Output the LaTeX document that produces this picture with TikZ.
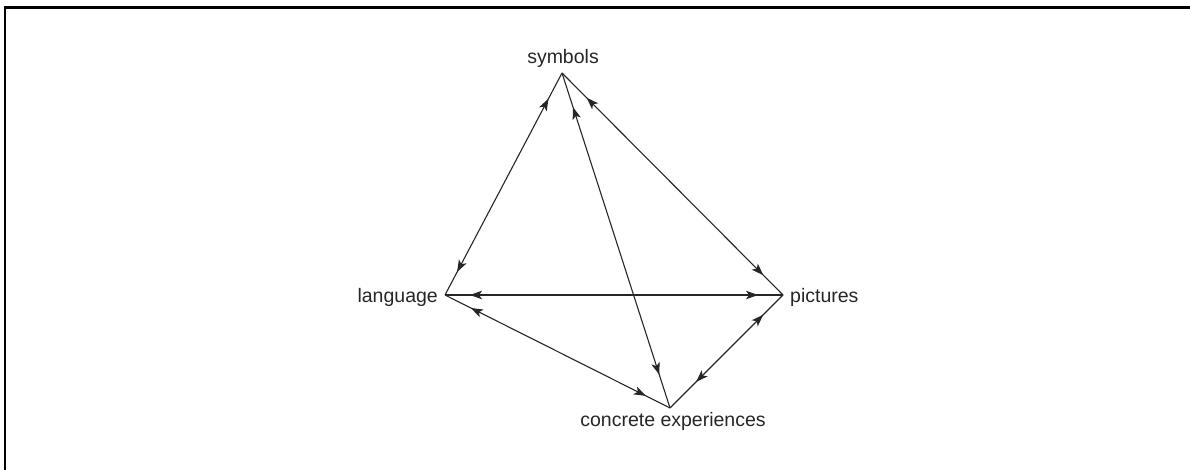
\documentclass[tikz,border=0pt]{standalone}
\usepackage{fontspec}
\setmainfont{Liberation Sans}
\usetikzlibrary{arrows.meta,decorations.markings}
\begin{document}
\begin{tikzpicture}[x=1pt,y=-1pt,
  label/.style={font=\fontsize{19.5}{22}\selectfont, inner sep=0pt, text=black!85},
  tipstyle/.tip={Stealth[length=12pt,width=8.5pt,inset=3pt]},
  edge/.style 2 args={draw=black!85, line width=1.1pt,
    postaction={decorate, decoration={markings,
      mark=at position #1 with {\arrowreversed{tipstyle}},
      mark=at position -#2 with {\arrow{tipstyle}}}}}]
  \useasboundingbox (0,0) rectangle (1190,470);
  % frame edges
  \draw[line width=2.5pt] (5,470) -- (5,7.5) -- (1190,7.5);
  % corners of the tetrahedron
  \coordinate (S) at (562,73);
  \coordinate (L) at (445,295);
  \coordinate (P) at (783,295);
  \coordinate (C) at (670,408);
  % labels
  \node[label] (ts) at (563,58) {symbols};
  \node[label, anchor=east] (tl) at (438,297) {language};
  \node[label, anchor=west] (tp) at (790,297) {pictures};
  \node[label] (tc) at (673,421) {concrete experiences};
  % two-way links
  \path[edge={29pt}{26pt}] (S) -- (L);
  \path[edge={35pt}{28pt}] (S) -- (P);
  \path[edge={36pt}{35pt}] (S) -- (C);
  \path[edge={25pt}{25pt}] (L) -- (P);
  \path[edge={29pt}{27pt}] (L) -- (C);
  \path[edge={28pt}{37pt}] (P) -- (C);
\end{tikzpicture}
\end{document}
